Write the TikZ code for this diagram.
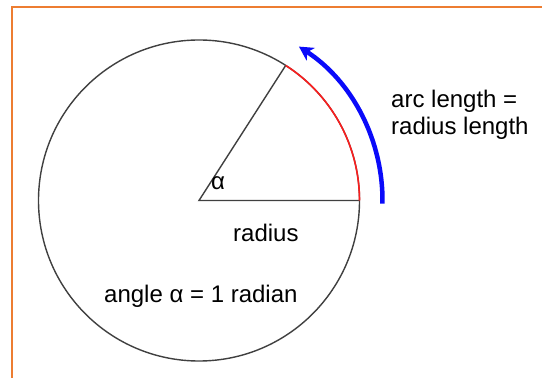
\documentclass[tikz,border=0pt]{standalone}
\usepackage{fontspec}
\setmainfont{Liberation Sans}
\usetikzlibrary{arrows.meta}
\definecolor{frameorange}{RGB}{237,125,49}
\definecolor{arcblue}{RGB}{10,10,250}
\definecolor{arcred}{RGB}{250,30,30}

\begin{document}
\begin{tikzpicture}[x=1pt,y=1pt,
    label text/.style={font=\fontsize{24}{27}\selectfont,anchor=base west,inner sep=0pt},
    thin line/.style={draw=black!75,line width=1.4pt}]
  % page and frame
  \fill[white] (0,0) rectangle (542,378);
  \useasboundingbox (0,0) rectangle (542,378);
  \draw[frameorange,line width=2pt] (11.5,0) -- (11.5,371) -- (542,371);

  % circle and radii
  \coordinate (O) at (199,177.5);
  \coordinate (A) at ([shift={(0:160.5)}]O);
  \coordinate (B) at ([shift={(57.3:160.5)}]O);
  \draw[thin line] (O) circle[radius=160.5];
  \draw[thin line] (A) -- (O) -- (B);
  \draw[arcred,line width=1.6pt] (A) arc[start angle=0,end angle=57.3,radius=160.5];

  % blue arrow
  \coordinate (C) at ([shift={(-1:183.5)}]O);
  \draw[arcblue,line width=4.5pt,-{Stealth[length=14pt,width=15pt,inset=4pt]}]
    (C) arc[start angle=-1,end angle=57,radius=183.5];

  % labels
  \node[label text] (alpha) at (211,188) {α};
  \node[label text] (rad) at (233,136) {radius};
  \node[label text] (ang) at (104,75) {angle α = 1 radian};
  \node[label text,align=left,anchor=north west] (arclen) at (391,288) {arc length =\\radius length};
\end{tikzpicture}
\end{document}
